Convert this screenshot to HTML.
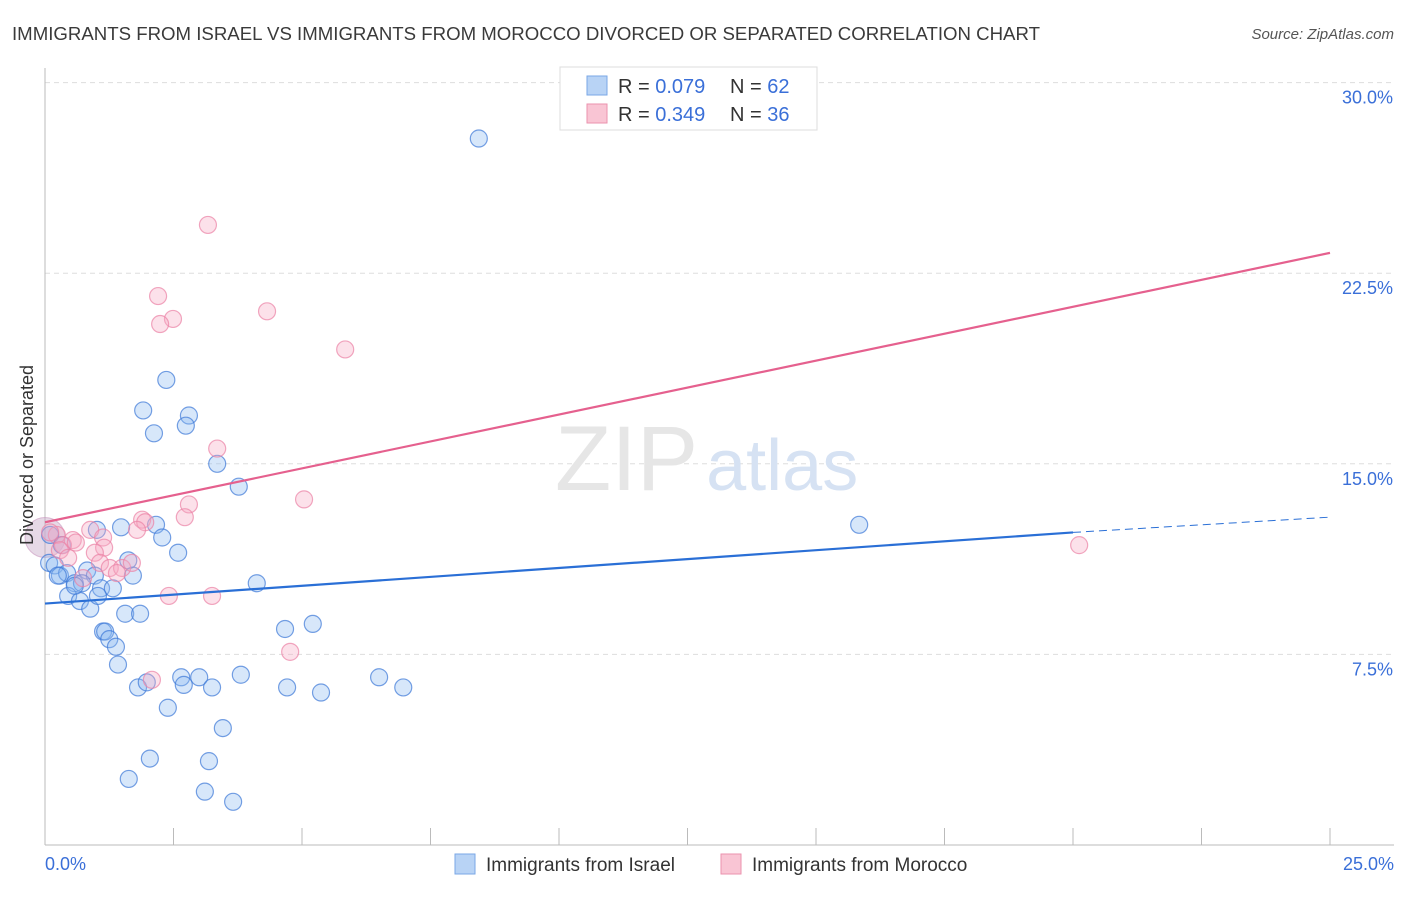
<!DOCTYPE html>
<html><head><meta charset="utf-8"><style>
body{margin:0;background:#fff;font-family:"Liberation Sans",sans-serif}
svg text{font-family:"Liberation Sans",sans-serif}
</style></head><body>
<svg width="1406" height="892" xmlns="http://www.w3.org/2000/svg">
<text x="12" y="40" font-size="18" fill="#3a3a3a" textLength="1028" lengthAdjust="spacingAndGlyphs">IMMIGRANTS FROM ISRAEL VS IMMIGRANTS FROM MOROCCO DIVORCED OR SEPARATED CORRELATION CHART</text>
<text x="1394" y="39" font-size="15" fill="#555" font-style="italic" text-anchor="end">Source: ZipAtlas.com</text>
<g id="grid"></g>
<text x="555" y="490" font-size="92" fill="#e6e6e6" font-family="Liberation Serif">ZIP<tspan fill="#d6e2f3" font-family="Liberation Sans" font-size="72" dx="8">atlas</tspan></text>
<g id="marks"></g>
<text transform="translate(33,455) rotate(-90)" font-size="18" fill="#333" text-anchor="middle">Divorced or Separated</text>
<g>
<rect x="560" y="67" width="257" height="63" fill="#fff" stroke="#ddd"/>
<rect x="587" y="76" width="20" height="19" fill="#b8d3f5" stroke="#7aa7e6"/>
<rect x="587" y="104" width="20" height="19" fill="#f9c5d4" stroke="#eb92ae"/>
<text x="618" y="93" font-size="20" fill="#333">R = <tspan fill="#3a6fd8">0.079</tspan></text>
<text x="730" y="93" font-size="20" fill="#333">N = <tspan fill="#3a6fd8">62</tspan></text>
<text x="618" y="121" font-size="20" fill="#333">R = <tspan fill="#3a6fd8">0.349</tspan></text>
<text x="730" y="121" font-size="20" fill="#333">N = <tspan fill="#3a6fd8">36</tspan></text>
</g>
<g>
<rect x="455" y="854" width="20" height="20" fill="#b8d3f5" stroke="#7aa7e6"/>
<text x="486" y="871" font-size="19" fill="#333">Immigrants from Israel</text>
<rect x="721" y="854" width="20" height="20" fill="#f9c5d4" stroke="#eb92ae"/>
<text x="752" y="871" font-size="19" fill="#333">Immigrants from Morocco</text>
</g>
</svg>
<script>
const yTicks=[7.5,15,22.5,30];
const yTickLabels=["7.5%","15.0%","22.5%","30.0%"];
const xTickCount=10;
const israelX=[8.44,2.36,1.91,2.8,2.74,2.12,3.35,3.77,15.84,1.48,2.16,1.01,2.28,2.59,1.62,0.08,0.19,0.29,0.43,0.82,0.97,1.09,1.32,1.71,0.58,0.72,0.45,0.68,0.88,1.56,1.85,4.12,1.13,1.17,1.25,1.38,1.42,4.67,5.21,2.65,3.0,3.81,6.5,2.7,3.25,1.81,1.98,4.71,5.37,6.97,2.39,3.46,2.04,3.19,1.63,3.11,3.66,0.1,0.33,0.58,0.25,1.03];
const israelY=[27.8,18.3,17.1,16.9,16.5,16.2,15.0,14.1,12.6,12.5,12.6,12.4,12.1,11.5,11.2,11.1,11.0,10.6,10.7,10.8,10.6,10.1,10.1,10.6,10.3,10.3,9.8,9.6,9.3,9.1,9.1,10.3,8.4,8.4,8.1,7.8,7.1,8.5,8.7,6.6,6.6,6.7,6.6,6.3,6.2,6.2,6.4,6.2,6.0,6.2,5.4,4.6,3.4,3.3,2.6,2.1,1.7,12.2,11.8,10.2,10.6,9.8];
const moroccoX=[3.17,2.2,2.49,2.24,4.32,5.84,3.35,5.04,2.8,2.72,1.89,1.95,1.79,0.88,1.13,0.23,0.54,0.35,0.29,0.45,1.15,0.97,1.07,1.26,1.5,1.69,1.4,0.74,2.41,3.25,4.77,2.08,20.12,14.47,0.1,0.6];
const moroccoY=[24.4,21.6,20.7,20.5,21.0,19.5,15.6,13.6,13.4,12.9,12.8,12.7,12.4,12.4,12.1,12.2,12.0,11.8,11.6,11.3,11.7,11.5,11.1,10.9,10.9,11.1,10.7,10.5,9.8,9.8,7.6,6.5,11.8,28.7,12.3,11.9];
const israelTrend=[[0,9.5],[20,12.3],[25,12.9]];
const moroccoTrend=[[0,12.7],[25,23.3]];
const X=v=>45+v/25*1285, Y=v=>845-v/7.5*190.6;
const NS="http://www.w3.org/2000/svg";
function mk(p,t,a){const e=document.createElementNS(NS,t);for(const k in a)e.setAttribute(k,a[k]);p.appendChild(e);return e;}
const g=document.getElementById('grid');
yTicks.forEach((t,i)=>{
 const l=mk(g,'line',{x1:45,x2:1394,y1:Y(t),y2:Y(t),stroke:'#ddd','stroke-dasharray':'5,4'});
 
 
 const tx=mk(g,'text',{x:1393,y:Y(t)+21,'font-size':18,fill:'#3a6fd8','text-anchor':'end'});
 tx.textContent=yTickLabels[i];
 
 
});
const ax=mk(g,'line',{x1:45,x2:45,y1:68,y2:845,stroke:'#bbb'});


const xa=mk(g,'line',{x1:45,x2:1394,y1:845,y2:845,stroke:'#bbb'});


for(let i=0;i<=xTickCount;i++){const x=X(i*25/xTickCount);const t=mk(g,'line',{x1:x,x2:x,y1:828,y2:845,stroke:'#bbb'});
 
 }
const x0=mk(g,'text',{x:45,y:870,'font-size':18,fill:'#3a6fd8'});x0.textContent='0.0%';


const x1=mk(g,'text',{x:1394,y:870,'font-size':18,fill:'#3a6fd8','text-anchor':'end'});x1.textContent='25.0%';


const m=document.getElementById('marks');
const big=mk(m,'circle',{cx:X(0),cy:Y(12.1),r:20,fill:'rgba(200,170,200,0.45)',stroke:'rgba(200,150,190,0.6)'});


israelX.forEach((v,i)=>{const c=mk(m,'circle',{cx:X(v),cy:Y(israelY[i]),r:8.5,fill:'rgba(140,185,240,0.35)',stroke:'rgba(60,120,215,0.7)','stroke-width':1.2});
 
 });
moroccoX.forEach((v,i)=>{const c=mk(m,'circle',{cx:X(v),cy:Y(moroccoY[i]),r:8.5,fill:'rgba(245,170,195,0.35)',stroke:'rgba(235,130,165,0.7)','stroke-width':1.2});
 
 });
const b1=mk(m,'line',{x1:X(israelTrend[0][0]),y1:Y(israelTrend[0][1]),x2:X(israelTrend[1][0]),y2:Y(israelTrend[1][1]),stroke:'#2a6fd6','stroke-width':2.2});


const b2=mk(m,'line',{x1:X(israelTrend[1][0]),y1:Y(israelTrend[1][1]),x2:X(israelTrend[2][0]),y2:Y(israelTrend[2][1]),stroke:'#2a6fd6','stroke-width':1,'stroke-dasharray':'8,5'});


const p1=mk(m,'line',{x1:X(moroccoTrend[0][0]),y1:Y(moroccoTrend[0][1]),x2:X(moroccoTrend[1][0]),y2:Y(moroccoTrend[1][1]),stroke:'#e5608e','stroke-width':2.2});


</script>
</body></html>
